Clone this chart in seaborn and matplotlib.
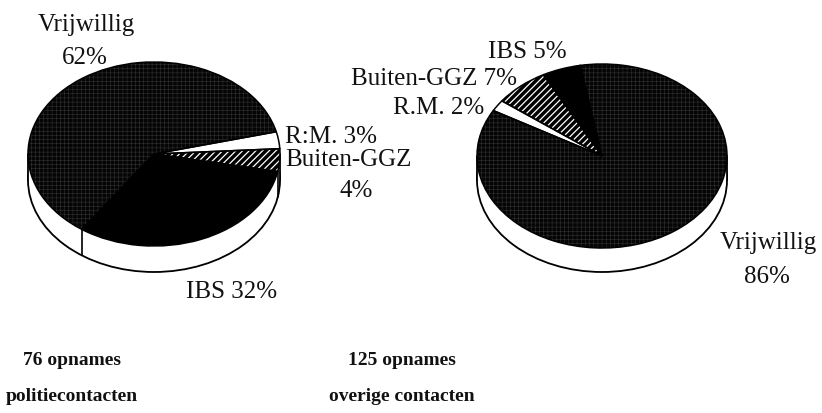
import numpy as np
import matplotlib
matplotlib.use("Agg")
import matplotlib.pyplot as plt
from matplotlib.patches import Circle, Rectangle
import seaborn as sns

# Admissions after police contact (n = 76)
police_cats = ["Vrijwillig", "IBS", "Buiten-GGZ", "R:M."]
police_pct = [62, 32, 4, 3]

# Admissions after other contacts (n = 125)
other_cats = ["IBS", "Buiten-GGZ", "R.M.", "Vrijwillig"]
other_pct = [5, 7, 2, 86]

captions = [("76 opnames", "politiecontacten"), ("125 opnames", "overige contacten")]

sns.set_theme(style="white")
plt.rcParams["font.family"] = ["Liberation Serif", "DejaVu Serif"]

W, H = 822, 414
fig = plt.figure(figsize=(W / 100, H / 100), dpi=100)
fig.patch.set_facecolor("white")

# fill, hatch pattern, hatch colour, hatch width per category
STYLE = {
    "Vrijwillig": ("#050505", "++++", "#3e3e3e", 0.3),
    "IBS": ("#000000", "", "#000000", 0.5),
    "Buiten-GGZ": ("#000000", "/////", "#ffffff", 0.9),
    "R:M.": ("#ffffff", "", "#ffffff", 0.5),
    "R.M.": ("#ffffff", "", "#ffffff", 0.5),
}


def draw_pie(cx, cy, rx, ry, depth, values, cats, startangle):
    d = depth / ry
    m = 1.1
    w = 2 * m * rx
    h = (2 * m + d) * ry
    left = cx - m * rx
    top = cy - m * ry
    ax = fig.add_axes([left / W, 1 - (top + h) / H, w / W, h / H])
    ax.set_facecolor("none")

    # side wall of the disc
    ax.add_patch(Circle((0, -d), 1, fc="white", ec="black", lw=1.3, zorder=1))
    ax.add_patch(Rectangle((-1, -d), 2, d, fc="white", ec="none", zorder=1.5))
    for sx in (-1, 1):
        ax.plot([sx, sx], [0, -d], color="black", lw=1.3, zorder=1.6)

    wedges, _ = ax.pie(values, startangle=startangle, counterclock=True,
                       radius=1, center=(0, 0),
                       colors=[STYLE[c][0] for c in cats],
                       wedgeprops=dict(linewidth=0))
    for wdg, c in zip(wedges, cats):
        fc, hatch, hc, hlw = STYLE[c]
        wdg.set_zorder(3)
        if hatch:
            wdg.set_hatch(hatch)
            wdg.set_edgecolor(hc)
            if hasattr(wdg, "set_hatch_linewidth"):
                wdg.set_hatch_linewidth(hlw)
    outline, _ = ax.pie(values, startangle=startangle, counterclock=True,
                        radius=1, center=(0, 0),
                        wedgeprops=dict(fill=False, edgecolor="black", linewidth=1.1))
    for o in outline:
        o.set_zorder(4)

    # slice boundaries visible on the front wall
    frac = np.cumsum(values) / np.sum(values)
    for f in np.concatenate([[0], frac[:-1]]):
        th = np.deg2rad(startangle + 360 * f)
        if np.sin(th) < 0:
            x, y = np.cos(th), np.sin(th)
            ax.plot([x, x], [y, y - d], color="black", lw=1.2, zorder=2)

    ax.set_aspect("auto")
    ax.set_xlim(-m, m)
    ax.set_ylim(-m - d, m)
    ax.axis("off")
    return ax


draw_pie(154, 155, 126, 92, 26, police_pct, police_cats, startangle=14)
draw_pie(602, 157, 125, 92, 24, other_pct, other_cats, startangle=100)


def label(x, y, s, ha="center", size=18, weight="normal"):
    fig.text(x / W, 1 - y / H, s, ha=ha, va="center", fontsize=size,
             fontweight=weight, color="#111111")


pv = dict(zip(police_cats, police_pct))
ov = dict(zip(other_cats, other_pct))

# left pie labels
label(86, 25, "Vrijwillig")
label(85, 58, f"{pv['Vrijwillig']}%")
label(285, 137, f"R:M. {pv['R:M.']}%", ha="left")
label(285, 160, "Buiten-GGZ", ha="left")
label(356, 191, f"{pv['Buiten-GGZ']}%")
label(232, 292, f"IBS {pv['IBS']}%")

# right pie labels
label(527, 52, f"IBS {ov['IBS']}%")
label(517, 79, f"Buiten-GGZ {ov['Buiten-GGZ']}%", ha="right")
label(484, 108, f"R.M. {ov['R.M.']}%", ha="right")
label(768, 243, "Vrijwillig")
label(767, 277, f"{ov['Vrijwillig']}%")

# captions
for cx, (l1, l2) in zip([72, 402], captions):
    label(cx, 361, l1, size=14, weight="bold")
    label(cx, 397, l2, size=14, weight="bold")

fig.savefig("out.png", dpi=100, facecolor="white")
